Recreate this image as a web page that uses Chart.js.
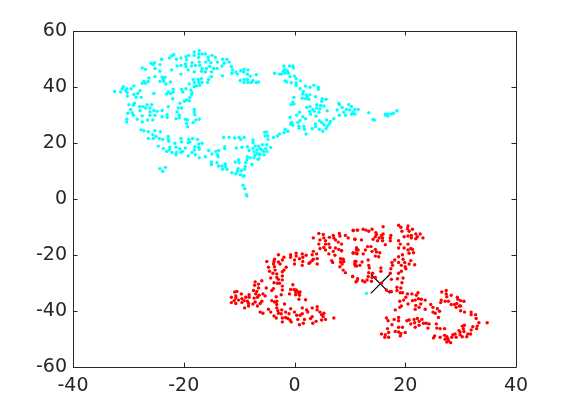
<!DOCTYPE html>
<html><head><meta charset="utf-8">
<style>html,body{margin:0;padding:0;background:#fff}canvas{display:block}</style>
<script src="https://cdn.jsdelivr.net/npm/chart.js@4"></script>
</head><body><canvas id="c" width="570" height="413"></canvas>
<script>
const xTicks=[-40,-20,0,20,40];
const yTicks=[-60,-40,-20,0,20,40,60];
const cyanPts=[[-17.2,53],[-18.1,52.5],[-18.1,51.3],[-17.3,51.8],[-16.7,51.8],[-16.1,51.8],[-14.9,51.3],[-17.3,50.6],[-15.6,50.6],[-14.3,50.6],[-21.8,51.6],[-22.2,51.1],[-22.6,50.4],[-19.6,50.8],[-19.1,51.3],[-20.5,50.4],[-21.3,49.9],[-19.5,49.7],[-24,49.9],[-25.3,48.7],[-25.9,48.5],[-25.5,48],[-24.3,48],[-27.5,46.8],[-26.9,46.3],[-25.2,46.6],[-24.3,45.6],[-21.2,47.5],[-20.5,47.7],[-22.2,46.1],[-19.7,48.2],[-19.6,47.3],[-18.5,48.7],[-18.6,47.5],[-17.9,47.7],[-17.1,47.7],[-17.2,48.9],[-16,48.9],[-15.5,49.6],[-15.1,48.7],[-13.9,48.9],[-13,49.9],[-12.2,49.9],[-11.8,48.9],[-12.7,48.5],[-13.1,47.5],[-11.4,47.3],[-15.3,47.3],[-15.9,46.6],[-14.6,46.6],[-14,46.6],[-16.7,46.6],[-19.2,46.1],[-18.1,45.4],[-16.8,45.6],[-16.1,45.4],[-15,45.4],[-20.5,44.6],[-13,44],[-11.2,46.1],[-11.3,44.9],[-10.6,45.4],[-10.3,44.6],[-9.7,45.8],[-9.1,46.3],[-9.2,45.4],[-8.4,46.1],[-8.5,44.6],[-8,43.9],[-6.9,44.4],[-9.8,42.3],[-9.1,42.7],[-8.5,42.7],[-9.1,41.6],[-8.4,41.6],[-7.8,41.6],[-7.5,42.3],[-6.9,41.6],[-6.5,41.8],[-15,43.7],[-15.5,42.7],[-16.8,43],[-17.4,42.7],[-18.3,42.7],[-15.7,41.6],[-16.7,41.6],[-17.3,41.6],[-18.1,41.6],[-19,41.1],[-17.1,40.6],[-17.7,40.4],[-18.1,40.1],[-25.2,43.7],[-26.3,43.2],[-26.4,42],[-27.2,42],[-27.5,41.3],[-26.9,41.3],[-23.9,43.5],[-23.7,42.7],[-23.4,43.5],[-24.3,42],[-23.6,42],[-22.4,41.8],[-23.2,41.1],[-29,40.4],[-30.9,40.1],[-31.1,39.4],[-30.3,39.4],[-29.5,39.4],[-31.4,38.2],[-32.5,38.4],[-30.5,38.7],[-27.9,38.7],[-28.3,37.7],[-30.2,38],[-30.2,36.8],[-29,37.3],[-28.6,36.3],[-27.7,36.3],[-25.4,37.7],[-22.8,38.2],[-21.9,38.2],[-22.4,37.7],[-23.1,37.5],[-21.9,39.2],[-20.4,39.2],[-19.6,39.4],[-20.2,38.2],[-18.7,38.9],[-18.5,38],[-18.6,37.3],[-22,35.8],[-18.9,36.3],[-19.5,35.4],[-19,35.1],[-19.9,34.9],[-20.7,34.2],[-28.9,34.2],[-29.9,33.7],[-29.1,33.5],[-27.4,33],[-26.6,33.7],[-25.8,33.7],[-29.6,32],[-28,33],[-26.9,32.5],[-26.1,32.5],[-30.1,30.6],[-29.3,30.8],[-27.9,31.6],[-26.1,31.1],[-25.4,31.6],[-24.8,31.3],[-23.9,31.6],[-22.8,33],[-21,32.5],[-20.4,32.5],[-18.1,32],[-18.1,31.1],[-21.2,31.1],[-27.5,29.7],[-29.1,29.9],[-26.1,29.9],[-25.2,29.9],[-23.9,29.4],[-23,30.1],[-23,29.2],[-18,30.1],[-20.8,29.9],[-20.8,29],[-21.4,28.7],[-30.3,28.5],[-30.3,27.5],[-28.4,28.5],[-27.5,27.5],[-26.5,28.2],[-25.6,28.2],[-19.7,28.5],[-19.3,28.2],[-19.5,27],[-19.3,25.8],[-18.3,27.3],[-17.8,28.2],[-17.2,28.5],[-27.7,24.7],[-27.2,24.4],[-26.4,24],[-25.2,24.4],[-24.2,24],[-25.6,23],[-26.4,21.6],[-25.5,21.6],[-25,22.3],[-24.4,21.6],[-23.8,21.3],[-22.8,22.3],[-22.8,21.3],[-20.5,21.6],[-19.1,21.3],[-18.4,21.6],[-17.5,21.3],[-20.4,20.4],[-21.6,19.9],[-22.7,20.6],[-19.2,20.1],[-18.9,20.4],[-16.7,19.9],[-17.3,19.6],[-24.6,18.9],[-23.7,18],[-22.5,18.5],[-22.6,17.5],[-21.4,18.5],[-20.7,18],[-19.7,18.2],[-18,18.7],[-17.3,18.5],[-17.2,17.8],[-18.1,17.5],[-23.1,17],[-22.1,16.6],[-21.3,16.6],[-21.4,15.8],[-20.5,16.6],[-20.2,17],[-18.5,16.6],[-17.9,15.8],[-19.2,15.4],[-17.2,14.7],[-16.1,15.1],[-15.5,17.3],[-14.9,16.1],[-14.2,17],[-13.7,17.3],[-13.9,15.8],[-13.8,15.1],[-12.6,18.7],[-12.6,18],[-12.8,22],[-11.8,22],[-10.8,21.8],[-10,22],[-9.1,22],[-9.7,21.3],[-7.5,21.1],[-7.5,20.1],[-8.5,18.7],[-9.5,18.5],[-10.5,18.2],[-7.5,18],[-7.1,18.9],[-6.5,18.9],[-6.8,17.5],[-7.3,16.8],[-6.7,16.3],[-8.2,17.3],[-6.3,15.8],[-7.1,15.6],[-8.5,15.1],[-8,14.7],[-7.3,14.7],[-8.6,14],[-6.6,14.2],[-10.1,14],[-10.7,13.2],[-10,13],[-8.8,13],[-7.7,12.3],[-15,13.2],[-15,12.3],[-14,13],[-13.7,11.8],[-13.1,11.8],[-12.5,12.5],[-12.5,11.6],[-13,10.6],[-12.2,10.6],[-10.2,10.8],[-8.9,11.6],[-9,10.6],[-9.6,10.1],[-10.3,9.9],[-10.6,9],[-11.3,9.4],[-9.8,8.7],[-9.3,8.2],[-9.1,8.2],[-24.3,10.8],[-23.3,11.3],[-23.8,9.9],[-9.3,4.9],[-9,3.7],[-8.7,1.5],[-8.6,1.1],
[-1.9,47.5],[-0.9,47.5],[-0.3,47.5],[-0.2,46.8],[-1.8,46.3],[-1.3,45.8],[-2,45.6],[-2.3,44.6],[-1.7,44.9],[-1.1,44.9],[-3.6,44.9],[-2.7,44.6],[-0.8,43.7],[0,43.9],[0.3,43],[1.1,42.2],[-1.7,42.2],[-1.4,41.8],[-0.6,41.5],[0.3,41.5],[0.3,40.6],[1,39.4],[2,40.3],[2.8,39.9],[3.5,40.6],[4.3,39.9],[4.3,39.2],[1.6,38.4],[2.8,37.2],[2.1,37.2],[1.5,37.5],[2.3,36.5],[1.4,36],[2,35.8],[2.6,35.6],[-0.1,36.3],[3.8,36.5],[5,35.8],[5.7,35.6],[4.9,34.9],[-0.3,34.6],[-0.6,33.7],[-0.1,33.9],[4,33.7],[4.7,33.4],[5.3,33.2],[2.2,32.7],[2.8,33],[3.3,32],[4,32.5],[4.6,32.2],[2.7,31.3],[3.6,31.3],[4.4,31],[5.9,31.5],[0.9,31],[0.4,29.9],[2.9,30.3],[3.9,29.6],[1.5,29.4],[2,28.7],[-0.8,29.2],[1,28],[0.6,27.3],[-0.5,27.3],[-0.7,26.8],[-0.3,26.3],[0.8,26],[0.8,25.3],[1.7,26],[1.8,24.9],[2.1,23.2],[4.5,28],[4.9,27.3],[5.8,28.2],[6.5,27.7],[6.3,26.8],[5.3,26.5],[5.9,26],[3.8,26.8],[3.8,25.8],[3.2,25.1],[4.5,24.9],[5.1,24.2],[5.7,25.1],[7.1,28.7],[8,34.2],[8.1,33.7],[7.7,31.8],[8.6,32.7],[8.9,31],[8.1,29.9],[9.2,29.9],[9.8,33.7],[10.3,33],[9.4,32],[10,31.8],[10.9,32],[11.5,32],[10.3,30.3],[10.9,30.3],[10.6,31],[13.4,30.8],[14.2,28.4],[14.4,28.2],[16.5,29.9],[16.4,30.3],[16.9,29.6],[16.9,30.3],[17.5,30.3],[17.9,30.6],[18.5,31.5],[-5,23.9],[-5.4,23.9],[-5.3,22.5],[-4.8,22.5],[-4.8,21.3],[-3.8,22],[-3.1,22.5],[-2.7,23.2],[-1.9,23.7],[-1.7,24.9],[-1.2,24.2],[-5.8,19.4],[-5,19.4],[-5.2,18],[-4.3,18.4],[-6.2,18],[-5.9,17.5],[-5.6,17],[-5,17],[-6.2,16.1],[-5.5,15.8],[-6.4,14.4],[13,-33.7]];
const redPts=[[4.4,-12.3],[5.2,-12.7],[3.4,-13.9],[4.6,-14.6],[5.3,-13.9],[4.4,-16.1],[5.6,-14.9],[6.3,-13.7],[7,-13],[7.1,-13.9],[8.1,-12.3],[8.2,-13.2],[9.2,-13],[9.7,-13.9],[10.6,-11.1],[11.4,-11.1],[10.9,-14.4],[7.4,-14.6],[7.9,-15.4],[8.5,-16.1],[5.6,-16.1],[6.2,-16.1],[5.3,-17.3],[6.4,-17.3],[4.6,-17.7],[5.6,-18.2],[7.4,-17.5],[8,-18],[7,-18.7],[8.5,-18.5],[11.2,-17.5],[11.5,-18.2],[10.6,-19.2],[11.2,-19.4],[6.2,-19.6],[7.3,-20.1],[8.3,-21.3],[8.8,-21.5],[6.7,-22],[6.9,-22.7],[8.3,-22.5],[8.6,-23.2],[8.2,-24.2],[8.8,-25.4],[9.2,-26.3],[10.5,-27.7],[11.4,-28.5],[11.1,-29.6],[10.9,-22.3],[10.9,-23.2],[11.2,-23.9],[3.4,-18.7],[4,-19.6],[3.2,-19.9],[-0.7,-19.9],[-0.7,-20.8],[0.3,-19.4],[0.3,-20.4],[1.4,-19.6],[2.1,-20.1],[0.9,-21.3],[1.5,-20.8],[0,-21.8],[0,-23.2],[1.5,-22.3],[1.4,-23.7],[2.8,-22.7],[3.4,-21.5],[4.1,-21.3],[3.2,-22],[2.6,-23],[4.1,-23.2],[-2.9,-19.9],[-1.9,-20.8],[-2.2,-21.8],[-3.6,-21.5],[-5,-22.3],[-3.7,-22.3],[-2.9,-22.5],[-2.6,-23.2],[-3.8,-23.2],[-4.7,-24.4],[-3.6,-24.2],[-1.5,-24.4],[-4.5,-25.8],[-3.5,-25.4],[-1.9,-25.4],[-2.2,-26],[-3.9,-26.5],[-3.2,-26.8],[-4.3,-28.2],[-3.2,-28],[-2.2,-27.5],[-2.9,-28.7],[-2.2,-28.9],[-3.7,-29.9],[-3.1,-30.1],[-2.7,-30.1],[-2.2,-31.1],[-3.8,-32],[-4.1,-32.7],[-2.2,-32.5],[-2.4,-34.2],[-3.3,-34.9],[-4.1,-36.3],[-3.6,-36.8],[-3.2,-36.5],[-3.2,-37.7],[-1.8,-37.5],[-0.3,-30.6],[-0.1,-32.3],[-0.7,-32.3],[0.3,-32.5],[0.5,-33],[-0.9,-33.9],[0.2,-33.2],[0.8,-33.7],[1,-33.2],[0.2,-34.2],[0.9,-34.4],[0.8,-35.8],[2,-36],[-7.1,-29.6],[-6.5,-30.4],[-5.9,-29.2],[-7.2,-30.8],[-6.5,-31.8],[-5.1,-31.8],[-10.8,-33.2],[-10.4,-33],[-9.6,-33.9],[-7.4,-32.7],[-6.8,-33],[-7,-33.9],[-8.2,-34.2],[-5.7,-33.9],[-5.3,-34.6],[-6.4,-34.4],[-11.4,-35.1],[-10.6,-34.6],[-10.6,-35.4],[-9.5,-35.6],[-8.8,-35.1],[-8.2,-35.1],[-7.3,-35.4],[-6.7,-35.1],[-11.4,-37],[-10.9,-36.3],[-10.6,-37.3],[-10.1,-36.1],[-9.5,-37],[-9.1,-36.3],[-8.5,-36.5],[-8.3,-37.3],[-8.3,-38.2],[-7.5,-37.5],[-7.1,-36.8],[-6.7,-38.2],[-6.2,-37.3],[-5.9,-36.5],[-9,-38.9],[-6.2,-40.4],[-5.7,-40.8],[-4.7,-39.4],[-4.3,-40.4],[-3.2,-38.9],[-3,-39.9],[-2.3,-39.6],[-2.9,-40.8],[-2.4,-41],[-1.6,-40.4],[-0.7,-39.2],[-1,-41],[0,-40.4],[1.4,-38.9],[2.2,-39.6],[2.4,-40.4],[3.2,-38.9],[4.1,-38.5],[4.1,-39.6],[4.6,-40.4],[5.3,-40.8],[4.9,-41.3],[5.2,-42],[5.6,-43],[7.1,-42.5],[-3.7,-41.8],[-3.3,-42.5],[-2.2,-42.5],[-1.6,-42.3],[-1.2,-42.7],[-0.8,-43.2],[-2.2,-43.9],[-0.6,-43.9],[0.4,-41.5],[1,-41.5],[1.4,-41],[0.6,-43],[0.9,-44.9],[1.6,-44.4],[1.8,-43],[2.9,-42.7],[3.2,-42],[3.3,-44.4],[3.9,-43.7],[4.9,-43.2],
[16,-9.9],[18.8,-9.4],[20.5,-9.6],[19.2,-10.1],[21.3,-10.8],[20.4,-10.6],[19.4,-11.5],[20.7,-11.5],[10.6,-11.3],[11.3,-11.1],[12.4,-10.8],[12.9,-11.1],[13.4,-11.5],[14,-10.8],[14.7,-12],[14.8,-12.7],[16,-12.5],[17.4,-13],[14.6,-13.5],[15.7,-13],[15.3,-13.9],[15.9,-13.9],[14.2,-14.4],[15,-14.9],[15.9,-14.9],[17.3,-13.9],[17.3,-14.9],[18.8,-14.9],[19.8,-13.5],[20.5,-13.2],[21.1,-13],[21.9,-12.5],[22.7,-12.5],[22.2,-13.5],[23.2,-13.9],[21.9,-14.2],[21.1,-13.9],[10.9,-14.4],[12.1,-14.6],[16.4,-16.3],[13.8,-17],[13.2,-17],[12.8,-18.2],[11.2,-17.5],[11.2,-18.2],[14.6,-18],[14,-18.7],[14.8,-18.9],[15.4,-19.2],[19.1,-16.1],[20.5,-16.1],[19.8,-17.5],[18.8,-17.5],[21,-17.7],[20.5,-18.2],[21.3,-18],[21.5,-19.2],[20.7,-19.4],[19.5,-19.9],[18.8,-20.6],[12.4,-19.6],[10.6,-19.4],[11.3,-19.6],[14.6,-20.4],[15.2,-20.6],[8.5,-18.5],[8.7,-21.5],[8.9,-22.3],[13.3,-21.8],[19.6,-21.5],[18.1,-21.8],[17.6,-22.7],[18.8,-22.7],[19.9,-22.7],[21,-22],[20.7,-23.2],[21.7,-23.5],[17.7,-23.7],[19.3,-23.7],[20,-24.2],[11.1,-22.3],[10.9,-23.2],[11,-23.9],[11.8,-23.7],[12.2,-22.5],[13.4,-23.7],[13.5,-24.6],[15.6,-24.6],[15.6,-25.8],[17.4,-24.9],[17.3,-26.5],[18.8,-26.5],[19.3,-25.8],[20.1,-24.9],[18.6,-28.5],[19.6,-28.2],[19.4,-29.9],[17.5,-28.7],[13.4,-26.3],[14.1,-26.5],[13.3,-27.7],[14,-28],[14.6,-28],[13.1,-28.9],[13.9,-29.4],[10.5,-27.7],[11.3,-29.2],[12.3,-29.2],[12.7,-29.6],[15.7,-30.1],[17.25,-33],[16.6,-32.5],[17.5,-33.1],[18.5,-31.5],[19.2,-31.8],[18.5,-32.7],[19.1,-33.5],[19.5,-33.5],[20.4,-33.9],[21.2,-33.9],[22,-34.4],[22.3,-33.5],[20.1,-35.1],[19,-36.5],[19.7,-36.1],[21.3,-36.3],[21.8,-36.1],[22.4,-35.6],[22.9,-35.8],[23.6,-36.1],[22.8,-37.5],[20.5,-37.5],[19.3,-38.2],[19,-38.7],[18.2,-39.6],[21.9,-38],[22.5,-38.7],[21.8,-39.4],[23.6,-39.4],[24.6,-37.7],[25,-38.7],[25,-40.4],[25.8,-39.2],[26.2,-40.1],[25.4,-40.8],[26,-42.3],[26.5,-36.1],[26.4,-37],[26.6,-33.2],[27.4,-32.7],[27.4,-33.9],[27.5,-34.9],[28.3,-34.4],[27.2,-36.5],[27.8,-36.5],[29.4,-35.1],[30,-36.3],[28.3,-37.7],[28.9,-37.7],[29.2,-38.7],[29.5,-35.8],[29.3,-37.3],[29.8,-38.2],[30,-38.2],[30.6,-36.5],[30,-39.9],[30.7,-40.4],[31.9,-40.4],[31.9,-41.3],[32.7,-41.3],[32.8,-42.7],[33.3,-44.2],[34.8,-44.2],[33,-45.4],[32.2,-45.6],[32.9,-46.3],[16.6,-42.5],[16.9,-43.5],[18,-43],[18.8,-42.3],[18.8,-43.5],[20.3,-43.5],[20.7,-43.2],[21.6,-43],[22.2,-42.7],[21.7,-44.2],[22.5,-43.7],[23,-43],[23.3,-44.4],[23.8,-44.4],[24.3,-44.6],[17.6,-44.9],[18.8,-45.8],[19.5,-45.8],[21,-44.6],[21.8,-45.8],[22.5,-45.1],[24.1,-46.1],[16.8,-46.3],[18.2,-47.3],[18.8,-47.5],[19.2,-48],[20,-47.7],[15.7,-48.2],[16.4,-48.5],[17,-47.7],[16.3,-49.4],[17,-49.4],[19.1,-48.9],[25.6,-44.6],[25.7,-46.1],[26.3,-46.3],[27.1,-46.3],[25.3,-48.9],[25.1,-49.6],[26.3,-49.4],[27.1,-48.7],[27.5,-49.2],[27.2,-50.1],[27.7,-49.9],[27.5,-51.1],[28.2,-51.3],[27.8,-50.6],[28.6,-48.5],[29,-48.2],[28.4,-49.4],[29.2,-49.4],[29.7,-47],[29.9,-47.5],[30.3,-45.4],[30.7,-45.1],[30.5,-46.3],[29.9,-48.5],[30.6,-47.3],[30.3,-49.2],[31.1,-49.2],[31.3,-48.2],[31.8,-48.2],[31.9,-46.8]];
const centroid=[[15.5,-30.3]];
const toXY=a=>a.map(p=>({x:p[0],y:p[1]}));
const FRAME='#262626';
const innerTicks={id:'innerTicks',afterDatasetsDraw(ch){
  const {ctx,chartArea:a,scales:{x,y}}=ch;const L=4.5;
  ctx.save();ctx.strokeStyle=FRAME;ctx.lineWidth=1;ctx.beginPath();
  xTicks.forEach(v=>{const p=Math.round(x.getPixelForValue(v))+.5;ctx.moveTo(p,a.bottom);ctx.lineTo(p,a.bottom-L);ctx.moveTo(p,a.top);ctx.lineTo(p,a.top+L);});
  yTicks.forEach(v=>{const p=Math.round(y.getPixelForValue(v))+.5;ctx.moveTo(a.left,p);ctx.lineTo(a.left+L,p);ctx.moveTo(a.right,p);ctx.lineTo(a.right-L,p);});
  ctx.rect(a.left+.5,a.top+.5,a.right-a.left,a.bottom-a.top);
  ctx.stroke();ctx.restore();
}};
const tickFont={family:'"DejaVu Sans"',size:19};
new Chart(document.getElementById('c'),{type:'scatter',
 data:{datasets:[
  {data:toXY(cyanPts),backgroundColor:'#00ffff',borderWidth:0,pointRadius:1.7},
  {data:toXY(redPts),backgroundColor:'#ff0000',borderWidth:0,pointRadius:1.7},
  {data:toXY(centroid),pointStyle:'crossRot',pointRadius:13.5,borderColor:'#000',backgroundColor:'#000',borderWidth:1.2}
 ]},
 options:{responsive:false,animation:false,events:[],
  layout:{padding:{top:31,right:54,left:0,bottom:0}},
  plugins:{legend:{display:false},tooltip:{enabled:false}},
  scales:{
   x:{type:'linear',min:-40,max:40,afterFit(s){s.height=46;},
      afterBuildTicks(s){s.ticks=xTicks.map(v=>({value:v}));},
      grid:{display:false,drawTicks:false},border:{display:false},
      ticks:{font:tickFont,color:FRAME,padding:8,maxRotation:0,autoSkip:false}},
   y:{type:'linear',min:-60,max:60,afterFit(s){s.width=73;},
      afterBuildTicks(s){s.ticks=yTicks.map(v=>({value:v}));},
      grid:{display:false,drawTicks:false},border:{display:false},
      ticks:{font:tickFont,color:FRAME,padding:6,autoSkip:false}}
  }},
 plugins:[innerTicks]});
</script></body></html>
